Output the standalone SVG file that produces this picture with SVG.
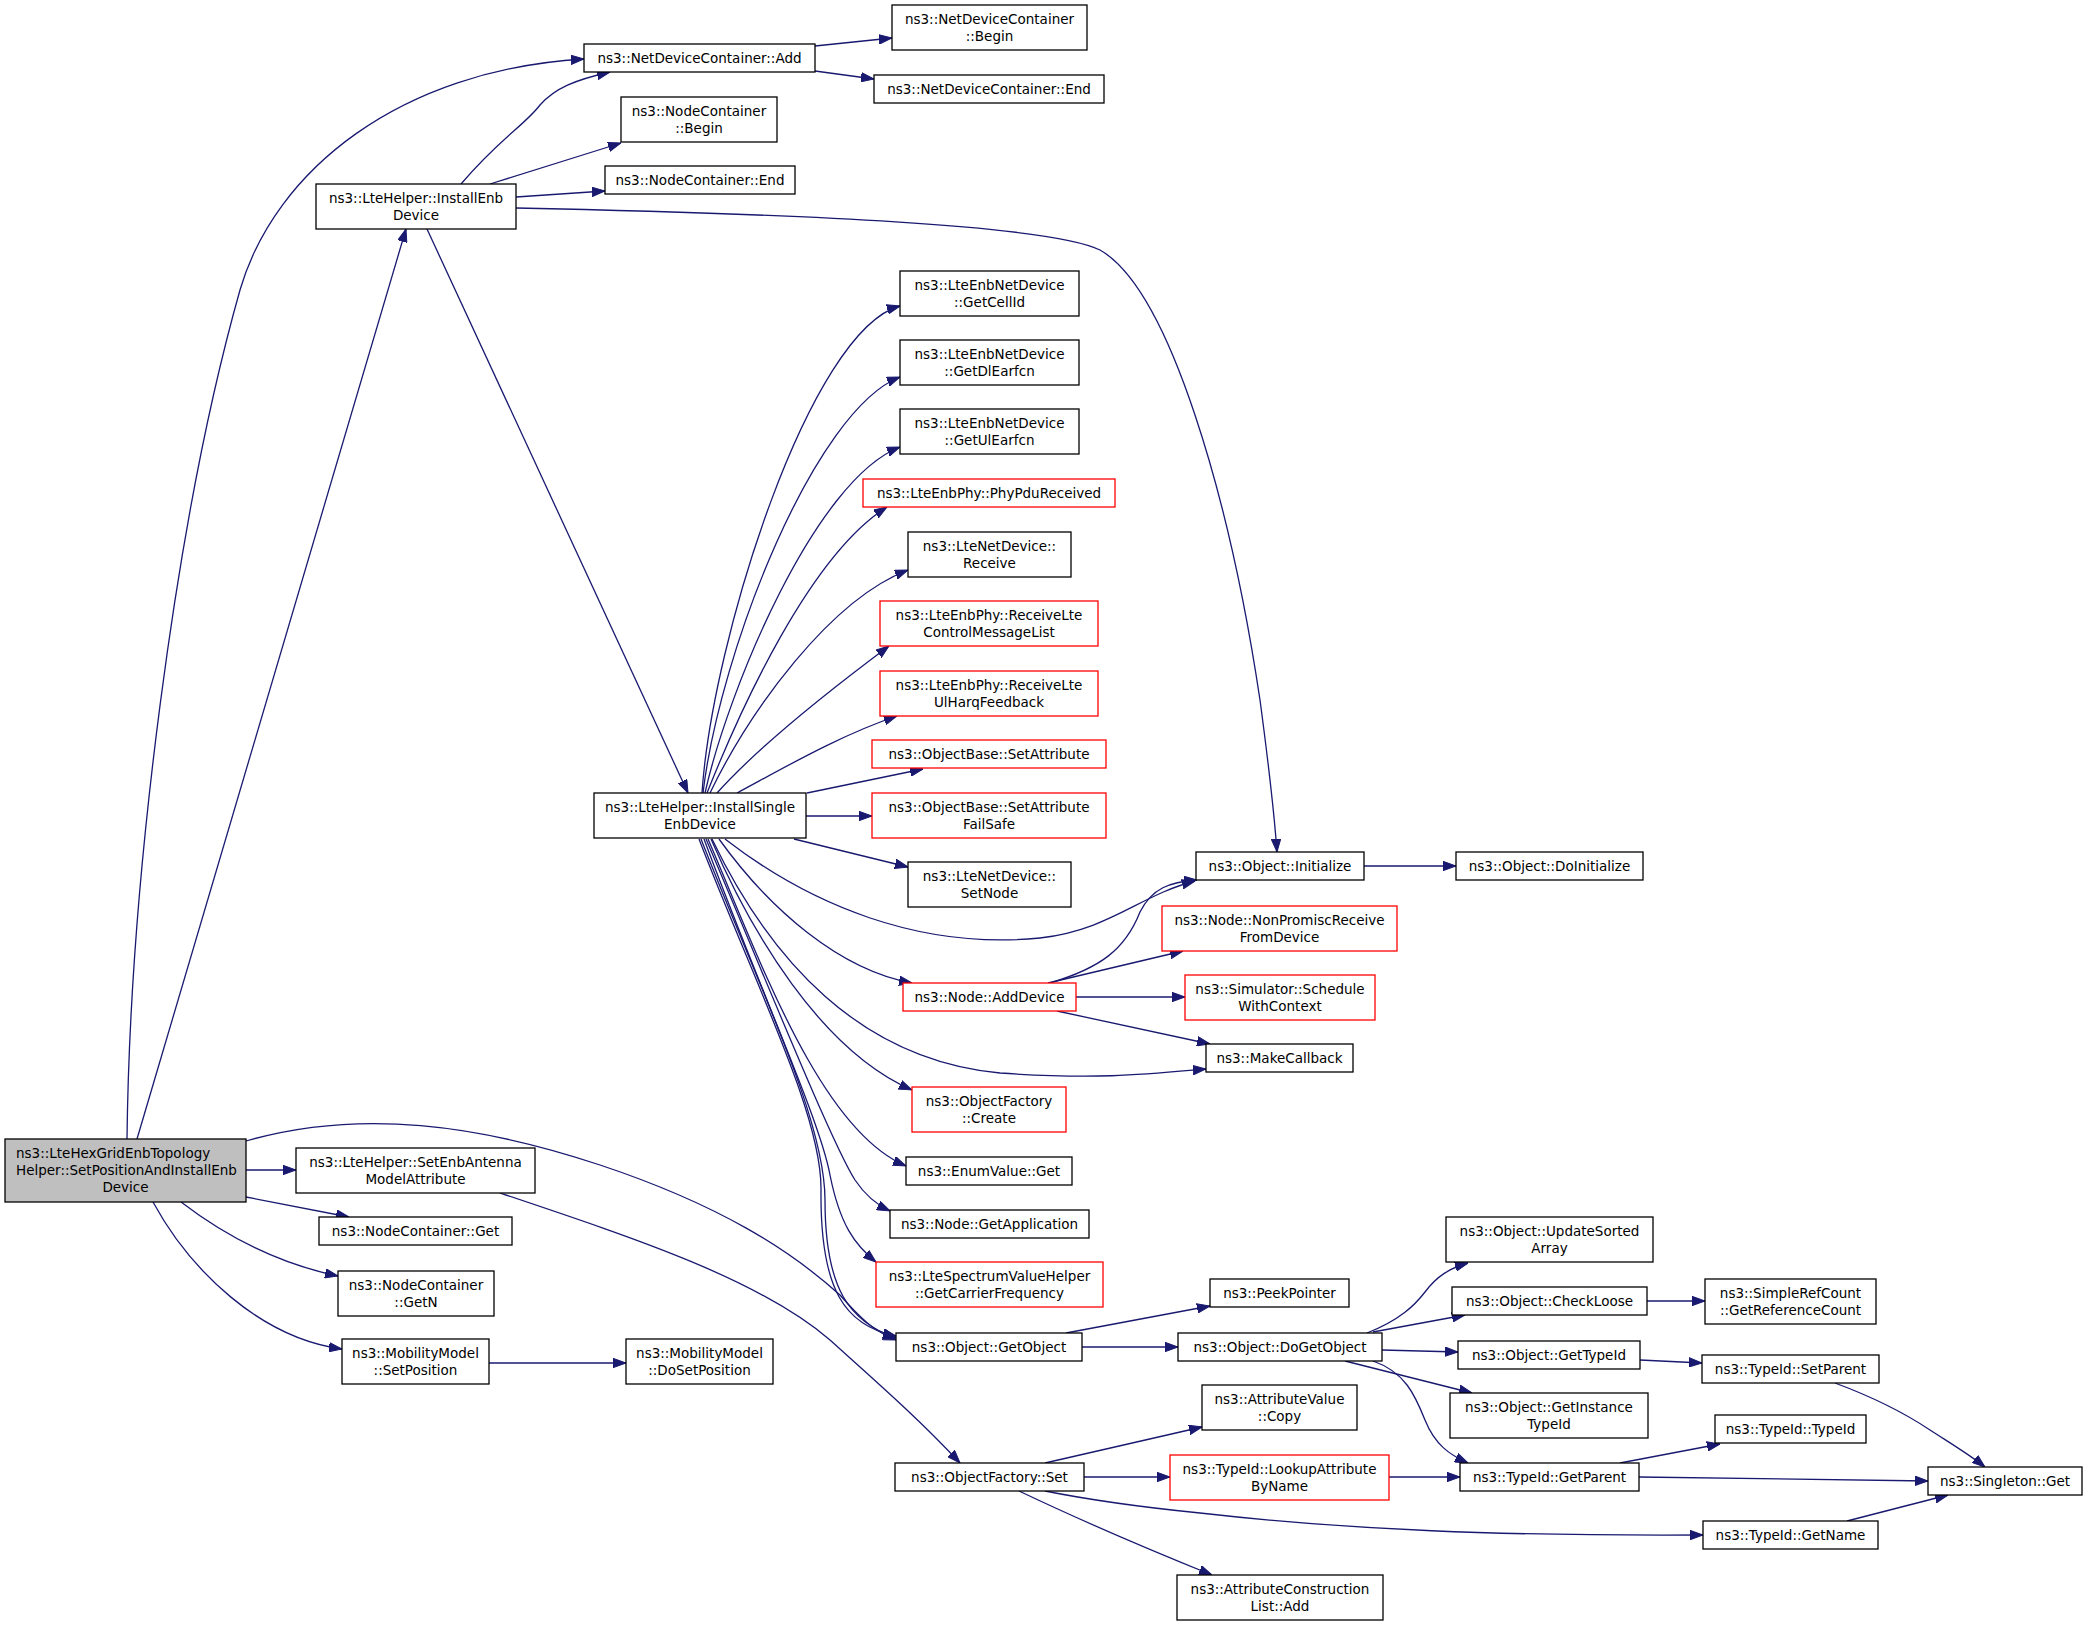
<svg xmlns="http://www.w3.org/2000/svg" width="2088" height="1625" viewBox="0 0 2088 1625">
<style>
.n rect{fill:#fff;stroke:#000;stroke-width:1.3}
.n.r rect{stroke:#f00}
.n.m rect{fill:#bfbfbf}
text{font-family:"DejaVu Sans","Liberation Sans",sans-serif;font-size:13.5px;text-anchor:middle;fill:#000}
.e path{fill:none;stroke:#191970;stroke-width:1.3;marker-end:url(#a)}
</style>
<defs>
<marker id="a" viewBox="0 0 13 10" refX="13" refY="5" markerWidth="13" markerHeight="10" markerUnits="userSpaceOnUse" orient="auto">
<path d="M0,0.3 L13,5 L0,9.7z" fill="#191970" stroke="#191970" stroke-width="1"/>
</marker>
</defs>
<rect width="2088" height="1625" fill="#fff"/>
<g id="edges" class="e">
<path d="M127,1139 C130,880 175,520 240,290 C275,170 400,70 584,59"/>
<path d="M137,1139 L406,229"/>
<path d="M246,1170 L296,1170"/>
<path d="M246,1197 L349,1217"/>
<path d="M181,1202 C215,1228 270,1262 338,1276"/>
<path d="M153,1202 C190,1270 260,1338 342,1349"/>
<path d="M246,1141 C360,1108 480,1125 600,1165 C720,1205 790,1250 840,1295 C860,1318 875,1332 896,1340"/>
<path d="M500,1193 C640,1240 760,1280 830,1340 C880,1385 920,1420 960,1463"/>
<path d="M461,184 C500,138 525,125 540,105 C555,88 575,80 610,72"/>
<path d="M490,184 L621,143"/>
<path d="M516,197 L605,191"/>
<path d="M516,208 C800,214 1050,225 1100,250 C1170,290 1230,500 1260,700 C1268,760 1274,810 1277,852"/>
<path d="M427,229 L688,793"/>
<path d="M815,46 L892,38"/>
<path d="M815,71 L874,79"/>
<path d="M702,793 C712,640 810,330 900,306"/>
<path d="M703,793 C720,650 815,410 900,377"/>
<path d="M705,793 C728,690 815,480 900,447"/>
<path d="M707,793 C740,710 810,555 887,507"/>
<path d="M710,793 C750,710 830,600 908,570"/>
<path d="M717,793 C760,745 830,690 889,646"/>
<path d="M737,793 C780,770 840,735 897,716"/>
<path d="M807,793 L923,769"/>
<path d="M806,816 L872,816"/>
<path d="M794,839 L908,867"/>
<path d="M725,839 C810,905 920,950 1040,938 C1110,930 1140,895 1195,881"/>
<path d="M719,839 C770,910 840,970 912,983"/>
<path d="M712,839 C770,960 860,1060 1000,1073 C1100,1080 1150,1074 1206,1069"/>
<path d="M711,839 C750,930 820,1050 912,1090"/>
<path d="M708,839 C760,960 820,1130 906,1166"/>
<path d="M706,839 C760,965 830,1140 855,1180 C865,1195 875,1204 890,1211"/>
<path d="M704,839 C760,990 820,1120 830,1175 C840,1225 855,1245 876,1262"/>
<path d="M701,839 C760,990 825,1120 825,1200 C825,1290 850,1322 896,1338"/>
<path d="M699,839 C755,985 822,1115 821,1190 C820,1290 845,1326 896,1336"/>
<path d="M1050,983 C1100,968 1125,950 1140,912 C1152,888 1170,882 1197,880"/>
<path d="M1048,983 L1183,951"/>
<path d="M1076,997 L1185,997"/>
<path d="M1057,1011 L1210,1044"/>
<path d="M1364,866 L1456,866"/>
<path d="M1066,1333 L1210,1306"/>
<path d="M1082,1347 L1178,1347"/>
<path d="M1367,1333 C1400,1320 1415,1305 1425,1292 C1437,1276 1450,1268 1468,1263"/>
<path d="M1373,1332 L1465,1315"/>
<path d="M1382,1350 L1458,1352"/>
<path d="M1345,1361 L1472,1393"/>
<path d="M1373,1361 C1405,1372 1415,1395 1425,1420 C1435,1445 1450,1455 1468,1463"/>
<path d="M1389,1477 L1460,1477"/>
<path d="M1045,1463 L1202,1427"/>
<path d="M1084,1477 L1170,1477"/>
<path d="M1045,1491 C1100,1502 1150,1508 1200,1513 C1350,1530 1500,1536 1703,1535"/>
<path d="M1019,1491 C1080,1520 1150,1550 1212,1575"/>
<path d="M1647,1301 L1705,1301"/>
<path d="M1640,1360 L1702,1363"/>
<path d="M1835,1383 C1870,1396 1900,1410 1930,1430 C1950,1443 1970,1455 1985,1467"/>
<path d="M1620,1463 L1720,1444"/>
<path d="M1639,1477 L1928,1481"/>
<path d="M1847,1521 L1948,1495"/>
<path d="M489,1363 L626,1363"/>
</g>
<g id="main" class="n m"><rect x="5" y="1139" width="241" height="63"/><text x="16" y="1158.3" style="text-anchor:start">ns3::LteHexGridEnbTopology</text><text x="16" y="1175.3" style="text-anchor:start">Helper::SetPositionAndInstallEnb</text><text x="125.5" y="1192.3">Device</text></g>
<g id="ndc_add" class="n"><rect x="584" y="44" width="231" height="28"/><text x="699.5" y="62.8">ns3::NetDeviceContainer::Add</text></g>
<g id="ndc_begin" class="n"><rect x="892" y="5" width="195" height="45"/><text x="989.5" y="23.8">ns3::NetDeviceContainer</text><text x="989.5" y="40.8">::Begin</text></g>
<g id="ndc_end" class="n"><rect x="874" y="75" width="230" height="28"/><text x="989" y="93.8">ns3::NetDeviceContainer::End</text></g>
<g id="nc_begin" class="n"><rect x="621" y="97" width="156" height="45"/><text x="699" y="115.8">ns3::NodeContainer</text><text x="699" y="132.8">::Begin</text></g>
<g id="nc_end" class="n"><rect x="605" y="166" width="190" height="28"/><text x="700" y="184.8">ns3::NodeContainer::End</text></g>
<g id="install_enb" class="n"><rect x="316" y="184" width="200" height="45"/><text x="416" y="202.8">ns3::LteHelper::InstallEnb</text><text x="416" y="219.8">Device</text></g>
<g id="getcellid" class="n"><rect x="900" y="271" width="179" height="45"/><text x="989.5" y="289.8">ns3::LteEnbNetDevice</text><text x="989.5" y="306.8">::GetCellId</text></g>
<g id="getdl" class="n"><rect x="900" y="340" width="179" height="45"/><text x="989.5" y="358.8">ns3::LteEnbNetDevice</text><text x="989.5" y="375.8">::GetDlEarfcn</text></g>
<g id="getul" class="n"><rect x="900" y="409" width="179" height="45"/><text x="989.5" y="427.8">ns3::LteEnbNetDevice</text><text x="989.5" y="444.8">::GetUlEarfcn</text></g>
<g id="phypdu" class="n r"><rect x="863" y="479" width="252" height="28"/><text x="989" y="497.8">ns3::LteEnbPhy::PhyPduReceived</text></g>
<g id="receive" class="n"><rect x="908" y="532" width="163" height="45"/><text x="989.5" y="550.8">ns3::LteNetDevice::</text><text x="989.5" y="567.8">Receive</text></g>
<g id="rxctrl" class="n r"><rect x="880" y="601" width="218" height="45"/><text x="989" y="619.8">ns3::LteEnbPhy::ReceiveLte</text><text x="989" y="636.8">ControlMessageList</text></g>
<g id="rxharq" class="n r"><rect x="880" y="671" width="218" height="45"/><text x="989" y="689.8">ns3::LteEnbPhy::ReceiveLte</text><text x="989" y="706.8">UlHarqFeedback</text></g>
<g id="setattr" class="n r"><rect x="872" y="740" width="234" height="28"/><text x="989" y="758.8">ns3::ObjectBase::SetAttribute</text></g>
<g id="setattrfs" class="n r"><rect x="872" y="793" width="234" height="45"/><text x="989" y="811.8">ns3::ObjectBase::SetAttribute</text><text x="989" y="828.8">FailSafe</text></g>
<g id="setnode" class="n"><rect x="908" y="862" width="163" height="45"/><text x="989.5" y="880.8">ns3::LteNetDevice::</text><text x="989.5" y="897.8">SetNode</text></g>
<g id="install_single" class="n"><rect x="594" y="793" width="212" height="45"/><text x="700" y="811.8">ns3::LteHelper::InstallSingle</text><text x="700" y="828.8">EnbDevice</text></g>
<g id="initialize" class="n"><rect x="1196" y="852" width="168" height="28"/><text x="1280" y="870.8">ns3::Object::Initialize</text></g>
<g id="doinitialize" class="n"><rect x="1456" y="852" width="187" height="28"/><text x="1549.5" y="870.8">ns3::Object::DoInitialize</text></g>
<g id="nonpromisc" class="n r"><rect x="1162" y="906" width="235" height="45"/><text x="1279.5" y="924.8">ns3::Node::NonPromiscReceive</text><text x="1279.5" y="941.8">FromDevice</text></g>
<g id="adddevice" class="n r"><rect x="903" y="983" width="173" height="28"/><text x="989.5" y="1001.8">ns3::Node::AddDevice</text></g>
<g id="schedule" class="n r"><rect x="1185" y="975" width="190" height="45"/><text x="1280" y="993.8">ns3::Simulator::Schedule</text><text x="1280" y="1010.8">WithContext</text></g>
<g id="makecallback" class="n"><rect x="1206" y="1044" width="147" height="28"/><text x="1279.5" y="1062.8">ns3::MakeCallback</text></g>
<g id="create" class="n r"><rect x="912" y="1087" width="154" height="45"/><text x="989" y="1105.8">ns3::ObjectFactory</text><text x="989" y="1122.8">::Create</text></g>
<g id="enumget" class="n"><rect x="906" y="1157" width="166" height="28"/><text x="989" y="1175.8">ns3::EnumValue::Get</text></g>
<g id="getapp" class="n"><rect x="890" y="1210" width="199" height="28"/><text x="989.5" y="1228.8">ns3::Node::GetApplication</text></g>
<g id="carrier" class="n r"><rect x="876" y="1262" width="227" height="45"/><text x="989.5" y="1280.8">ns3::LteSpectrumValueHelper</text><text x="989.5" y="1297.8">::GetCarrierFrequency</text></g>
<g id="getobject" class="n"><rect x="896" y="1333" width="186" height="28"/><text x="989" y="1351.8">ns3::Object::GetObject</text></g>
<g id="peek" class="n"><rect x="1210" y="1279" width="139" height="28"/><text x="1279.5" y="1297.8">ns3::PeekPointer</text></g>
<g id="dogetobject" class="n"><rect x="1178" y="1333" width="204" height="28"/><text x="1280" y="1351.8">ns3::Object::DoGetObject</text></g>
<g id="updatesorted" class="n"><rect x="1446" y="1217" width="207" height="45"/><text x="1549.5" y="1235.8">ns3::Object::UpdateSorted</text><text x="1549.5" y="1252.8">Array</text></g>
<g id="checkloose" class="n"><rect x="1452" y="1287" width="195" height="28"/><text x="1549.5" y="1305.8">ns3::Object::CheckLoose</text></g>
<g id="simplerefcount" class="n"><rect x="1705" y="1279" width="171" height="45"/><text x="1790.5" y="1297.8">ns3::SimpleRefCount</text><text x="1790.5" y="1314.8">::GetReferenceCount</text></g>
<g id="gettypeid" class="n"><rect x="1458" y="1341" width="182" height="28"/><text x="1549" y="1359.8">ns3::Object::GetTypeId</text></g>
<g id="setparent" class="n"><rect x="1702" y="1355" width="177" height="28"/><text x="1790.5" y="1373.8">ns3::TypeId::SetParent</text></g>
<g id="getinstancetypeid" class="n"><rect x="1450" y="1393" width="198" height="45"/><text x="1549" y="1411.8">ns3::Object::GetInstance</text><text x="1549" y="1428.8">TypeId</text></g>
<g id="typeidtypeid" class="n"><rect x="1715" y="1415" width="151" height="28"/><text x="1790.5" y="1433.8">ns3::TypeId::TypeId</text></g>
<g id="singleton" class="n"><rect x="1928" y="1467" width="154" height="28"/><text x="2005" y="1485.8">ns3::Singleton::Get</text></g>
<g id="getparent" class="n"><rect x="1460" y="1463" width="179" height="28"/><text x="1549.5" y="1481.8">ns3::TypeId::GetParent</text></g>
<g id="attrvaluecopy" class="n"><rect x="1202" y="1385" width="155" height="45"/><text x="1279.5" y="1403.8">ns3::AttributeValue</text><text x="1279.5" y="1420.8">::Copy</text></g>
<g id="lookup" class="n r"><rect x="1170" y="1455" width="219" height="45"/><text x="1279.5" y="1473.8">ns3::TypeId::LookupAttribute</text><text x="1279.5" y="1490.8">ByName</text></g>
<g id="factoryset" class="n"><rect x="895" y="1463" width="189" height="28"/><text x="989.5" y="1481.8">ns3::ObjectFactory::Set</text></g>
<g id="getname" class="n"><rect x="1703" y="1521" width="175" height="28"/><text x="1790.5" y="1539.8">ns3::TypeId::GetName</text></g>
<g id="attrconstr" class="n"><rect x="1177" y="1575" width="206" height="45"/><text x="1280" y="1593.8">ns3::AttributeConstruction</text><text x="1280" y="1610.8">List::Add</text></g>
<g id="setenbantenna" class="n"><rect x="296" y="1148" width="239" height="45"/><text x="415.5" y="1166.8">ns3::LteHelper::SetEnbAntenna</text><text x="415.5" y="1183.8">ModelAttribute</text></g>
<g id="ncget" class="n"><rect x="319" y="1217" width="193" height="28"/><text x="415.5" y="1235.8">ns3::NodeContainer::Get</text></g>
<g id="ncgetn" class="n"><rect x="338" y="1271" width="156" height="45"/><text x="416" y="1289.8">ns3::NodeContainer</text><text x="416" y="1306.8">::GetN</text></g>
<g id="mmsetpos" class="n"><rect x="342" y="1339" width="147" height="45"/><text x="415.5" y="1357.8">ns3::MobilityModel</text><text x="415.5" y="1374.8">::SetPosition</text></g>
<g id="mmdosetpos" class="n"><rect x="626" y="1339" width="147" height="45"/><text x="699.5" y="1357.8">ns3::MobilityModel</text><text x="699.5" y="1374.8">::DoSetPosition</text></g>
</svg>
